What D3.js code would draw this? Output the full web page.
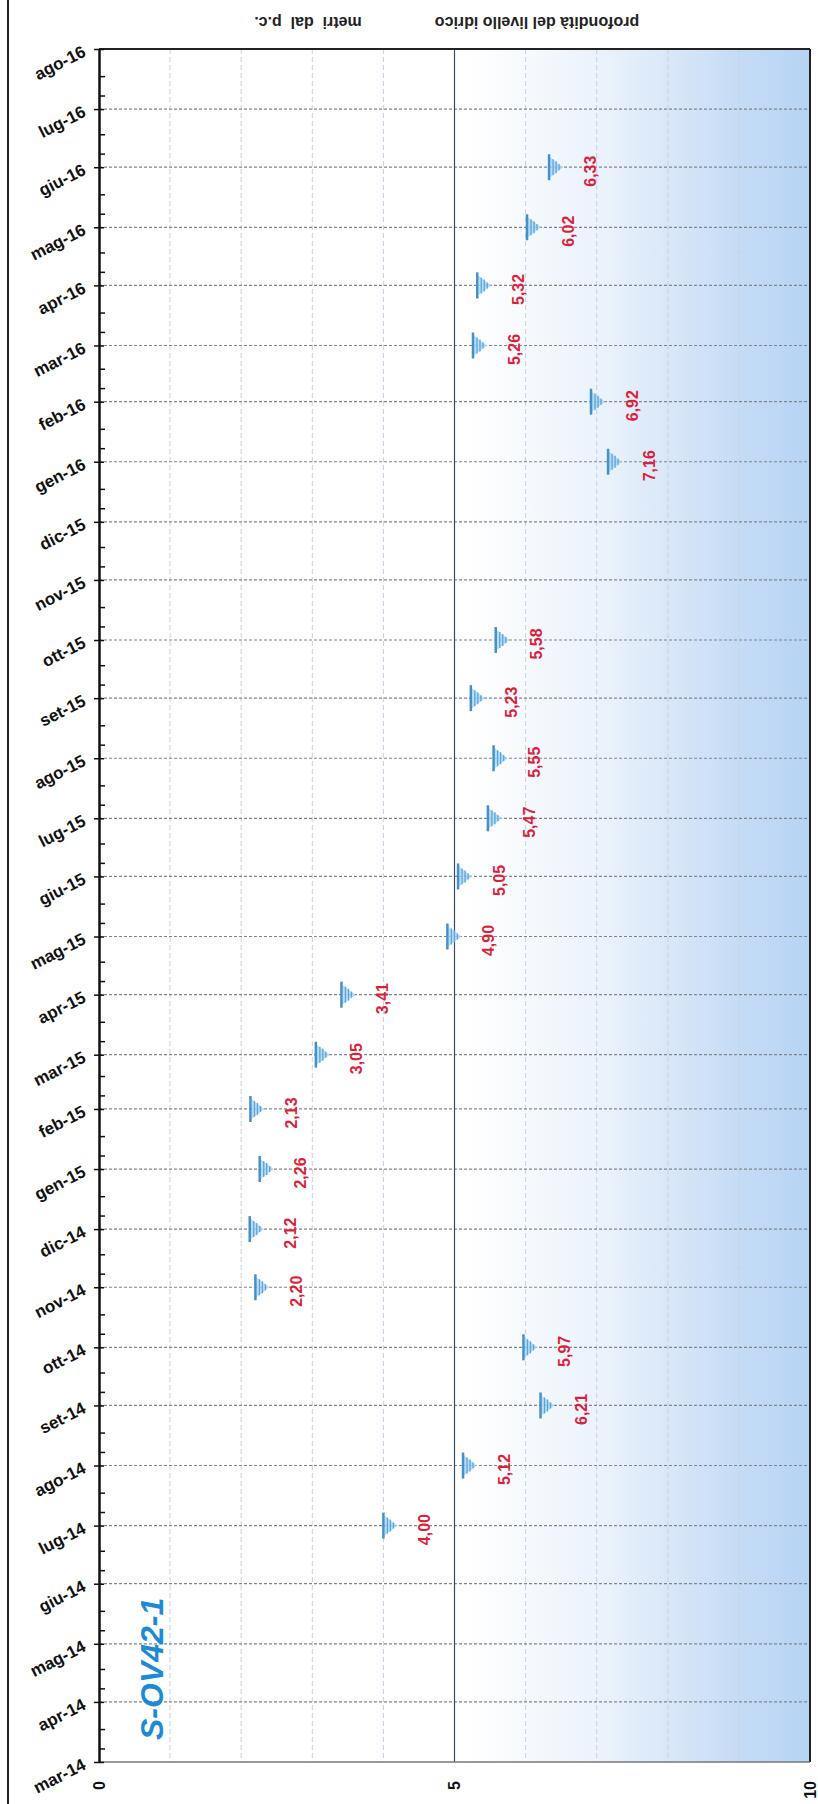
<!doctype html>
<html>

<head>
    <meta charset="utf-8">
    <title>S-OV42-1</title>
    <style>
    body {
        margin: 0;
        background: #fff;
    }

    svg {
        display: block;
        font-family: "Liberation Sans", Arial, sans-serif;
    }
    </style>
</head>

<body>
    <svg width="818" height="1804"></svg>
    <script src="https://cdn.jsdelivr.net/npm/d3@7"></script>
    <script>
    // misure: mese (aaaa-mm) e profondità in metri dal p.c.
    var months = ["2014-07", "2014-08", "2014-09", "2014-10", "2014-11", "2014-12",
        "2015-01", "2015-02", "2015-03", "2015-04", "2015-05", "2015-06",
        "2015-07", "2015-08", "2015-09", "2015-10",
        "2016-01", "2016-02", "2016-03", "2016-04", "2016-05", "2016-06"];
    var depths = [4.00, 5.12, 6.21, 5.97, 2.20, 2.12,
        2.26, 2.13, 3.05, 3.41, 4.90, 5.05,
        5.47, 5.55, 5.23, 5.58,
        7.16, 6.92, 5.26, 5.32, 6.02, 6.33];
    var monthNames = ["gen", "feb", "mar", "apr", "mag", "giu", "lug", "ago", "set", "ott", "nov", "dic"];
    var depthTicks = [0, 5, 10];
    var depthGrid = [1, 2, 3, 4, 6, 7, 8, 9];
    var titleMain = "profondità del livello idrico",
        titleUnit = "metri  dal  p.c.",
        wellName = "S-OV42-1";

    var parse = d3.timeParse("%Y-%m");
    var data = months.map(function(m, i) { return { date: parse(m), v: depths[i] }; });

    var svg = d3.select("svg"),
        pLeft = 99, pRight = 810, pTop = 49, pBottom = 1762;

    var y = d3.scaleTime()
        .domain([new Date(2014, 2, 1), new Date(2016, 7, 1)])
        .range([pBottom, pTop]);
    var x = d3.scaleLinear()
        .domain([0, 10])
        .range([pLeft, pRight]);

    // cornice esterna
    svg.append("line")
        .attr("x1", 8).attr("x2", 8).attr("y1", 0).attr("y2", 1804)
        .attr("stroke", "#222").attr("stroke-width", 2);

    // sfondo sfumato
    var grad = svg.append("defs").append("linearGradient")
        .attr("id", "bg").attr("x1", "0%").attr("x2", "100%").attr("y1", "0%").attr("y2", "0%");
    grad.append("stop").attr("offset", "52%").attr("stop-color", "#ffffff");
    grad.append("stop").attr("offset", "72%").attr("stop-color", "#e9f1fb");
    grad.append("stop").attr("offset", "88%").attr("stop-color", "#c9def6");
    grad.append("stop").attr("offset", "100%").attr("stop-color", "#b6d3f4");

    svg.append("rect")
        .attr("x", pLeft).attr("y", pTop)
        .attr("width", pRight - pLeft).attr("height", pBottom - pTop)
        .attr("fill", "url(#bg)");

    var monthTicks = d3.timeMonth.range(new Date(2014, 2, 1), new Date(2016, 8, 1));

    // griglia verticale (profondità)
    svg.append("g").selectAll("line")
        .data(depthGrid)
        .enter().append("line")
        .attr("x1", function(d) { return x(d); })
        .attr("x2", function(d) { return x(d); })
        .attr("y1", pTop).attr("y2", pBottom)
        .attr("stroke", "#c8d1e2").attr("stroke-width", 1)
        .attr("stroke-dasharray", "5,3");

    // griglia orizzontale (mesi)
    svg.append("g").selectAll("line")
        .data(monthTicks.slice(1, -1))
        .enter().append("line")
        .attr("x1", pLeft).attr("x2", pRight)
        .attr("y1", function(d) { return y(d); })
        .attr("y2", function(d) { return y(d); })
        .attr("stroke", "#80868f").attr("stroke-width", 1.2)
        .attr("stroke-dasharray", "3,2");

    // linea dei 5 m
    svg.append("line")
        .attr("x1", x(5)).attr("x2", x(5)).attr("y1", pTop).attr("y2", pBottom)
        .attr("stroke", "#3c4a66").attr("stroke-width", 1.2);

    // bordi area grafico
    svg.append("line")
        .attr("x1", pLeft).attr("x2", pRight).attr("y1", pTop).attr("y2", pTop)
        .attr("stroke", "#222").attr("stroke-width", 2);
    svg.append("line")
        .attr("x1", pRight).attr("x2", pRight).attr("y1", pTop).attr("y2", pBottom)
        .attr("stroke", "#222").attr("stroke-width", 2);
    svg.append("line")
        .attr("x1", pLeft).attr("x2", pRight).attr("y1", pBottom).attr("y2", pBottom)
        .attr("stroke", "#777").attr("stroke-width", 1.5);

    // asse dei tempi
    var minor = [];
    monthTicks.forEach(function(m) {
        minor.push(new Date(m.getFullYear(), m.getMonth(), 8));
        minor.push(new Date(m.getFullYear(), m.getMonth(), 18));
    });
    minor = minor.filter(function(d) { return d < y.domain()[1]; });

    var yAxisMinor = d3.axisLeft(y).tickValues(minor).tickSizeInner(-6).tickSizeOuter(0).tickFormat("");
    svg.append("g")
        .attr("transform", "translate(" + pLeft + ",0)")
        .call(yAxisMinor)
        .call(function(g) {
            g.select(".domain").remove();
            g.selectAll("line").attr("stroke", "#111").attr("stroke-width", 1.5);
        });

    var yAxis = d3.axisLeft(y)
        .tickValues(monthTicks)
        .tickSizeInner(5).tickSizeOuter(0)
        .tickFormat(function(d) { return monthNames[d.getMonth()] + "-" + d3.timeFormat("%y")(d); });

    svg.append("g")
        .attr("transform", "translate(" + pLeft + ",0)")
        .call(yAxis)
        .call(function(g) {
            g.select(".domain").attr("stroke", "#111").attr("stroke-width", 2.5);
            g.selectAll(".tick line").attr("stroke", "#111").attr("stroke-width", 1.5).attr("x2", 5).attr("x1", -5);
            g.selectAll(".tick text")
                .attr("x", null).attr("dy", null)
                .attr("transform", "translate(-12,6) rotate(-27)")
                .attr("text-anchor", "end")
                .attr("fill", "#111")
                .style("font-size", "17px")
                .style("font-weight", "bold")
                .style("font-family", "'Liberation Sans', Arial, sans-serif");
        });

    // etichette profondità
    svg.append("g").selectAll("text")
        .data(depthTicks)
        .enter().append("text")
        .attr("transform", function(d) { return "translate(" + x(d) + ",1781) rotate(-90)"; })
        .attr("text-anchor", "end")
        .attr("dy", "0.35em")
        .attr("fill", "#111")
        .style("font-size", "16px")
        .style("font-weight", "bold")
        .text(function(d) { return d; });

    // titolo capovolto
    svg.append("text")
        .attr("transform", "translate(537,23) rotate(180)")
        .attr("text-anchor", "middle")
        .attr("dy", "0.35em")
        .attr("fill", "#222")
        .style("font-size", "16px")
        .style("font-weight", "bold")
        .text(titleMain);
    svg.append("text")
        .attr("transform", "translate(308,23) rotate(180)")
        .attr("text-anchor", "middle")
        .attr("dy", "0.35em")
        .attr("fill", "#222")
        .style("font-size", "16px")
        .style("font-weight", "bold")
        .style("white-space", "pre")
        .text(titleUnit);

    // nome del piezometro
    svg.append("text")
        .attr("transform", "translate(152,1740) rotate(-90)")
        .attr("text-anchor", "start")
        .attr("dy", "0.35em")
        .attr("fill", "#1d8ad6")
        .style("font-size", "32px")
        .style("font-weight", "bold")
        .style("font-style", "italic")
        .text(wellName);

    // simboli di livello idrico
    var mk = svg.append("g").selectAll("g")
        .data(data)
        .enter().append("g")
        .attr("transform", function(d) { return "translate(" + x(d.v) + "," + y(d.date) + ")"; });

    mk.append("path")
        .attr("d", "M1,-10L14,0L1,10Z")
        .attr("fill", "#a8d6f4")
        .attr("opacity", 0.8);
    mk.append("line")
        .attr("x1", 0).attr("x2", 0).attr("y1", -13).attr("y2", 13)
        .attr("stroke", "#4690c8").attr("stroke-width", 2.5);
    [4, 7, 10].forEach(function(dx, i) {
        var h = [8, 6, 3][i];
        mk.append("line")
            .attr("x1", dx).attr("x2", dx).attr("y1", -h).attr("y2", h)
            .attr("stroke", "#5aa6dc").attr("stroke-width", 1.3);
    });

    mk.append("text")
        .attr("transform", "translate(41,4) rotate(-90)")
        .attr("text-anchor", "middle")
        .attr("dy", "0.35em")
        .attr("fill", "#dc1f3a")
        .style("font-size", "16px")
        .style("font-weight", "bold")
        .text(function(d) { return d3.format(".2f")(d.v).replace(".", ","); });
    </script>
</body>

</html>
